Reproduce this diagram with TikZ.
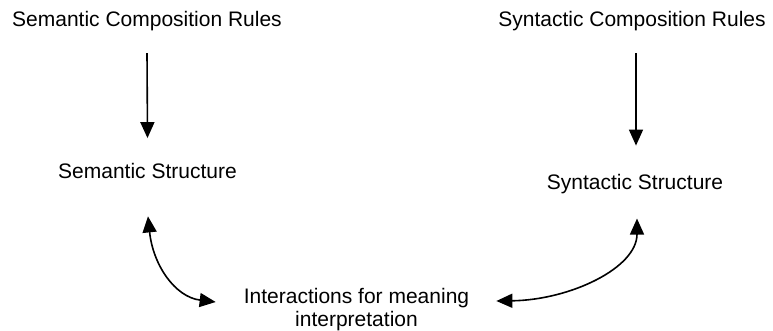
\documentclass[tikz,border=0pt]{standalone}
\usepackage{fontspec}
\setmainfont{Liberation Sans}
\usetikzlibrary{arrows.meta}
\begin{document}
\begin{tikzpicture}[x=1pt,y=-1pt,
  label/.style={inner sep=0pt,anchor=base,font=\fontsize{21}{23}\selectfont,align=center},
  conn/.style={line width=1.6pt,-{Triangle[length=16pt,width=14pt]}},
  biconn/.style={line width=1.6pt,{Triangle[length=16pt,width=14pt]}-{Triangle[length=16pt,width=14pt]}}]
  \useasboundingbox[fill=white] (0,0) rectangle (773,330);

  % labels
  \node[label] (semrules) at (147,26) {Semantic Composition Rules};
  \node[label] (synrules) at (632,26) {Syntactic Composition Rules};
  \node[label] (semstruct) at (147.5,178) {Semantic Structure};
  \node[label] (synstruct) at (635,189) {Syntactic Structure};
  \node[label] (interp) at (356.5,326) {Interactions for meaning\\interpretation};

  % rules feed the structures
  \draw[conn] ([yshift=-22.5pt]semrules.south) -- ([yshift=24.5pt]semstruct.north);
  \draw[conn] ([xshift=4pt,yshift=-22.5pt]synrules.south) -- ([xshift=1pt,yshift=28pt]synstruct.north);

  % both structures interact for interpretation
  \coordinate (semlow) at ([xshift=0.5pt,yshift=-38pt]semstruct.south);
  \coordinate (synlow) at ([xshift=2pt,yshift=-25pt]synstruct.south);
  \coordinate (interpL) at ([xshift=-28pt,yshift=24pt]interp.base west);
  \coordinate (interpR) at ([xshift=27pt,yshift=25pt]interp.base east);
  \draw[biconn] (semlow) .. controls (153,265) and (175,297) .. (interpL);
  \draw[biconn] (interpR) .. controls (570,300) and (637,268) .. (synlow);
\end{tikzpicture}
\end{document}
